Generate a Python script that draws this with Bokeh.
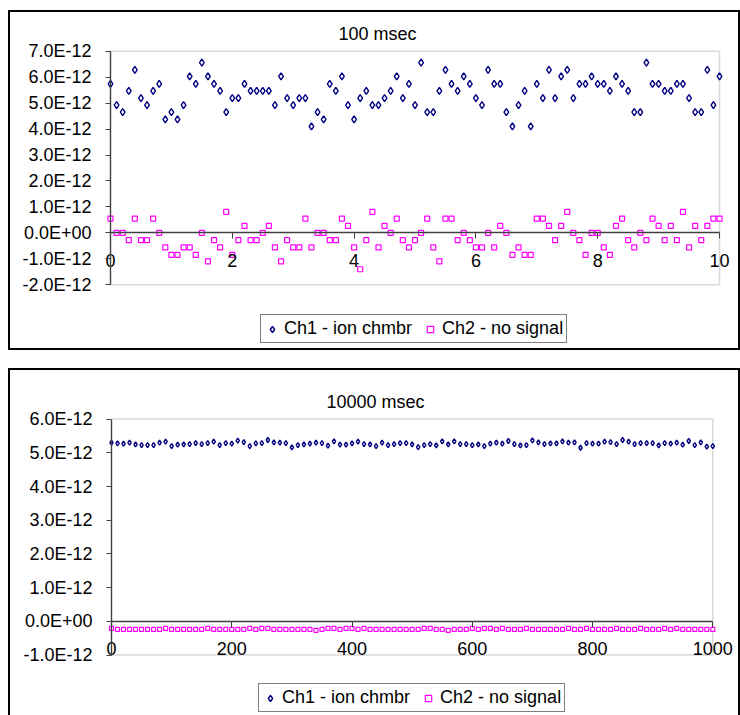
from bokeh.plotting import figure
from bokeh.models import FixedTicker, Legend, LegendItem, Range1d, Spacer, BoxAnnotation
from bokeh.layouts import column, row
from bokeh.embed import file_html
from bokeh.resources import INLINE

FONT = "Liberation Sans"

# ---------------- data: 100 msec chart (y in units of 1E-12) ----------------
x_100ms = [round(0.1 * i, 1) for i in range(101)]
ch1_100ms = [
    5.74, 4.92, 4.65, 5.47, 6.28, 5.19, 4.92, 5.47, 5.74, 4.37,
    4.65, 4.37, 4.92, 6.03, 5.74, 6.56, 6.03, 5.74, 5.47, 4.65,
    5.19, 5.19, 5.74, 5.47, 5.47, 5.47, 5.47, 4.92, 6.03, 5.19,
    4.92, 5.19, 5.19, 4.10, 4.65, 4.37, 5.74, 5.47, 6.03, 4.92,
    4.37, 5.19, 5.47, 4.92, 4.92, 5.19, 5.47, 6.03, 5.19, 5.74,
    4.92, 6.56, 4.65, 4.65, 5.47, 6.28, 5.74, 5.47, 6.03, 5.74,
    5.19, 4.92, 6.28, 5.74, 5.74, 4.65, 4.10, 4.92, 5.47, 4.10,
    5.74, 5.19, 6.28, 5.19, 6.03, 6.28, 5.19, 5.74, 5.74, 6.03,
    5.74, 5.74, 5.47, 6.03, 5.74, 5.47, 4.65, 4.65, 6.56, 5.74,
    5.74, 5.47, 5.47, 5.74, 5.74, 5.19, 4.65, 4.65, 6.28, 4.92,
    6.03,
]
ch2_100ms = [
    0.55, 0.00, 0.00, -0.28, 0.55, -0.28, -0.28, 0.55, 0.00, -0.56,
    -0.85, -0.85, -0.56, -0.56, -0.85, 0.00, -1.10, -0.28, -0.56, 0.81,
    -0.85, -0.28, 0.27, -0.28, -0.28, 0.00, 0.27, -0.56, -1.10, -0.28,
    -0.56, -0.56, 0.55, -0.56, 0.00, 0.00, -0.28, -0.28, 0.55, 0.27,
    -0.56, -1.40, -0.28, 0.81, -0.56, 0.27, 0.00, 0.55, -0.28, -0.56,
    -0.28, 0.00, 0.55, -0.56, -1.10, 0.55, 0.55, -0.28, 0.00, -0.28,
    -0.56, -0.56, 0.00, -0.56, 0.27, 0.00, -0.85, -0.56, -0.85, -0.85,
    0.55, 0.55, 0.27, -0.28, 0.27, 0.81, 0.00, -0.28, -0.85, 0.00,
    0.00, -0.56, -0.85, 0.27, 0.55, -0.28, -0.56, 0.00, -0.28, 0.55,
    0.27, -0.28, 0.27, -0.28, 0.81, -0.56, 0.27, -0.28, 0.27, 0.55,
    0.55,
]
xticks_100ms = [0, 2, 4, 6, 8, 10]
yticks_100ms = [-2, -1, 0, 1, 2, 3, 4, 5, 6, 7]
ylabels_100ms = ["-2.0E-12", "-1.0E-12", "0.0E+00", "1.0E-12", "2.0E-12",
                 "3.0E-12", "4.0E-12", "5.0E-12", "6.0E-12", "7.0E-12"]

# ---------------- data: 10000 msec chart (y in units of 1E-12) ----------------
x_10000ms = [10 * i for i in range(101)]
ch1_10000ms = [
    5.30, 5.28, 5.27, 5.30, 5.25, 5.23, 5.23, 5.23, 5.30, 5.33,
    5.20, 5.24, 5.25, 5.26, 5.29, 5.26, 5.29, 5.33, 5.23, 5.29,
    5.27, 5.36, 5.32, 5.20, 5.28, 5.29, 5.38, 5.31, 5.30, 5.29,
    5.16, 5.23, 5.25, 5.27, 5.30, 5.29, 5.21, 5.34, 5.24, 5.24,
    5.28, 5.33, 5.26, 5.25, 5.20, 5.30, 5.23, 5.26, 5.29, 5.29,
    5.25, 5.17, 5.23, 5.26, 5.22, 5.34, 5.25, 5.34, 5.26, 5.26,
    5.23, 5.25, 5.20, 5.27, 5.30, 5.27, 5.35, 5.26, 5.22, 5.23,
    5.37, 5.31, 5.26, 5.28, 5.28, 5.34, 5.30, 5.31, 5.15, 5.29,
    5.27, 5.27, 5.33, 5.32, 5.26, 5.38, 5.33, 5.26, 5.29, 5.29,
    5.29, 5.22, 5.29, 5.27, 5.30, 5.24, 5.35, 5.23, 5.31, 5.18,
    5.20,
]
ch2_10000ms = [
    -0.21, -0.24, -0.24, -0.24, -0.24, -0.24, -0.24, -0.24, -0.24, -0.21,
    -0.24, -0.24, -0.24, -0.24, -0.24, -0.24, -0.21, -0.24, -0.24, -0.24,
    -0.24, -0.24, -0.24, -0.21, -0.24, -0.21, -0.21, -0.24, -0.24, -0.24,
    -0.24, -0.24, -0.24, -0.24, -0.27, -0.24, -0.21, -0.21, -0.24, -0.21,
    -0.21, -0.24, -0.21, -0.24, -0.24, -0.24, -0.24, -0.24, -0.24, -0.24,
    -0.24, -0.24, -0.21, -0.21, -0.24, -0.24, -0.27, -0.24, -0.24, -0.24,
    -0.21, -0.24, -0.21, -0.21, -0.24, -0.21, -0.24, -0.24, -0.24, -0.21,
    -0.24, -0.24, -0.24, -0.24, -0.24, -0.24, -0.21, -0.24, -0.24, -0.21,
    -0.24, -0.24, -0.24, -0.24, -0.21, -0.24, -0.24, -0.24, -0.21, -0.24,
    -0.24, -0.24, -0.21, -0.24, -0.21, -0.24, -0.24, -0.24, -0.24, -0.24,
    -0.24,
]
xticks_10000ms = [0, 200, 400, 600, 800, 1000]
yticks_10000ms = [-1, 0, 1, 2, 3, 4, 5, 6]
ylabels_10000ms = ["-1.0E-12", "0.0E+00", "1.0E-12", "2.0E-12", "3.0E-12",
                   "4.0E-12", "5.0E-12", "6.0E-12"]

series_names = ["Ch1 - ion chmbr", "Ch2 - no signal"]
NAVY = "#000080"
MAGENTA = "#FF00FF"
AXIS = "#404040"

FIG_W = 732


def make_chart(title, x, ch1, ch2, xr, yr, xbounds, ybounds, xticks, yticks, ylabels,
               height, top_border, title_offset, title_standoff, legend_loc,
               d_size, s_size, box_css):
    p = figure(width=FIG_W, height=height, output_backend="svg",
               toolbar_location=None, x_range=Range1d(*xr), y_range=Range1d(*yr),
               min_border_left=0, min_border_right=0,
               min_border_top=top_border, min_border_bottom=0)
    p.title.text = title
    p.title.align = "left"
    p.title.offset = title_offset
    p.title.text_font = FONT
    p.title.text_font_size = "18px"
    p.title.text_font_style = "normal"
    p.title.text_color = "black"
    p.title.standoff = title_standoff

    p.border_fill_color = None
    p.background_fill_color = None
    p.outline_line_color = None
    p.xgrid.visible = False
    p.ygrid.visible = False
    p.styles = {"box-shadow": box_css}

    # plot-area border (grey) around the data region
    p.add_layout(BoxAnnotation(left=xbounds[0], right=xbounds[1],
                               bottom=ybounds[0], top=ybounds[1],
                               fill_alpha=0, line_color="#808080", line_width=1.5,
                               level="underlay"))

    r1 = p.scatter(x, ch1, marker="diamond", size=d_size, line_color=NAVY,
                   fill_color="white", line_width=1.4)
    r2 = p.scatter(x, ch2, marker="square", size=s_size, line_color=MAGENTA,
                   fill_color="white", line_width=1.2)

    xa = p.xaxis[0]
    xa.fixed_location = 0
    xa.bounds = xbounds
    xa.ticker = FixedTicker(ticks=xticks)
    xa.axis_line_color = AXIS
    xa.axis_line_width = 1.3
    xa.major_tick_line_color = AXIS
    xa.major_tick_out = 6
    xa.major_tick_in = 0
    xa.minor_tick_out = 0
    xa.minor_tick_in = 0
    xa.major_label_standoff = 15
    xa.major_label_text_font = FONT
    xa.major_label_text_font_size = "18px"
    xa.major_label_text_color = "black"

    ya = p.yaxis[0]
    ya.fixed_location = xbounds[0]
    ya.bounds = ybounds
    ya.ticker = FixedTicker(ticks=yticks)
    ya.major_label_overrides = {t: lab for t, lab in zip(yticks, ylabels)}
    ya.axis_line_color = AXIS
    ya.axis_line_width = 1.3
    ya.major_tick_line_color = AXIS
    ya.major_tick_out = 5
    ya.major_tick_in = 0
    ya.minor_tick_out = 0
    ya.minor_tick_in = 0
    ya.major_label_standoff = 14
    ya.major_label_text_font = FONT
    ya.major_label_text_font_size = "18px"
    ya.major_label_text_color = "black"

    legend = Legend(items=[LegendItem(label=series_names[0], renderers=[r1]),
                           LegendItem(label=series_names[1], renderers=[r2])],
                    orientation="horizontal", location=legend_loc, margin=0,
                    padding=3, spacing=10, glyph_width=16, glyph_height=16,
                    label_standoff=4, label_height=18,
                    label_text_font=FONT, label_text_font_size="18px",
                    label_text_color="black",
                    border_line_color="black", border_line_width=1,
                    background_fill_color="white", background_fill_alpha=1.0)
    p.add_layout(legend)
    return p


# top chart: page box 8..740 x 10..350 ; data area x 110..719, y 50.7..284.3
TOP_H = 340
top_frame_top = 33
px_x = (719 - 110) / 10.0
px_y = (284.3 - 50.7) / 9.0
top_xr = (0 - (110 - 8) / px_x, 10 + (740 - 719) / px_x)
top_yr = (-2 - (350 - 284.3) / px_y, 7 + (50.7 - (10 + top_frame_top)) / px_y)

# bottom chart: page box 8..740 x 368..715 ; data area x 111..712.3, y 418.6..654.5
BOT_H = 347
bot_frame_top = 43
bx = (712.3 - 111) / 1000.0
by = (654.5 - 418.6) / 7.0
bot_xr = (0 - (111 - 8) / bx, 1000 + (740 - 712.3) / bx)
bot_yr = (-1 - (715 - 654.5) / by, 6 + (418.6 - (368 + bot_frame_top)) / by)

p_top = make_chart("100 msec", x_100ms, ch1_100ms, ch2_100ms, top_xr, top_yr,
                   (0, 10), (-2, 7), xticks_100ms, yticks_100ms, ylabels_100ms,
                   height=TOP_H, top_border=top_frame_top, title_offset=330,
                   title_standoff=0, legend_loc=(252, 7), d_size=7, s_size=5,
                   box_css="inset 0 0 0 2px #000000")

p_bot = make_chart("10000 msec", x_10000ms, ch1_10000ms, ch2_10000ms, bot_xr, bot_yr,
                   (0, 1000), (-1, 6), xticks_10000ms, yticks_10000ms, ylabels_10000ms,
                   height=BOT_H, top_border=bot_frame_top, title_offset=318,
                   title_standoff=0, legend_loc=(250, 3), d_size=5, s_size=4,
                   box_css="inset 2px 0 0 0 #000000, inset -2px 0 0 0 #000000, inset 0 2px 0 0 #000000")

layout = row(Spacer(width=8),
             column(Spacer(height=10), p_top, Spacer(height=18), p_bot))

open("out.html", "w").write(file_html(layout, INLINE))
